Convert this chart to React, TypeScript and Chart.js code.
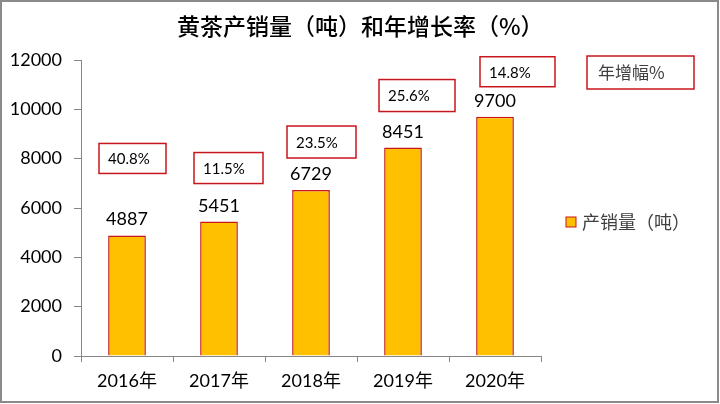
import React, { useEffect, useRef } from "react";
import { Chart, registerables } from "chart.js";

Chart.register(...registerables);

const categories = ["2016年", "2017年", "2018年", "2019年", "2020年"];
const output = [4887, 5451, 6729, 8451, 9700];
const growthRates = ["40.8%", "11.5%", "23.5%", "25.6%", "14.8%"];
const yTicks = [0, 2000, 4000, 6000, 8000, 10000, 12000];
const seriesLabel = "产销量（吨）";
const growthLegend = "年增幅%";
const titleText = "黄茶产销量（吨）和年增长率（%）";

// layout of the growth-rate callouts, relative to each bar (centre x, top y)
const calloutLayout = [
  { dx: -28, dy: -92, w: 67, h: 30 },
  { dx: -25, dy: -69, w: 69, h: 31 },
  { dx: -24, dy: -64, w: 69, h: 32 },
  { dx: -24, dy: -68, w: 76, h: 32 },
  { dx: -15, dy: -60, w: 75, h: 30 },
];

const FONT = "Lato, 'Noto Sans CJK SC', sans-serif";
const CJK = "'Noto Sans CJK SC', Lato, sans-serif";
const RED = "#C8161D";
const GOLD = "#FFC000";

const overlayPlugin = {
  id: "overlay",
  afterDatasetsDraw(chart: any) {
    const ctx = chart.ctx;
    const meta = chart.getDatasetMeta(0);
    ctx.save();
    // title
    ctx.fillStyle = "#000";
    ctx.font = `500 23px ${CJK}`;
    ctx.textAlign = "left";
    ctx.textBaseline = "middle";
    ctx.fillText(titleText, 177, 26);
    // value labels
    ctx.font = `18px ${FONT}`;
    ctx.fillStyle = "#000";
    ctx.textAlign = "center";
    ctx.textBaseline = "alphabetic";
    meta.data.forEach((bar: any, i: number) => {
      ctx.fillText(String(output[i]), bar.x, bar.y - 10);
    });
    // growth callouts
    meta.data.forEach((bar: any, i: number) => {
      const L = calloutLayout[i];
      const x = bar.x + L.dx;
      const y = bar.y + L.dy;
      ctx.fillStyle = "#fff";
      ctx.fillRect(x, y, L.w, L.h);
      ctx.strokeStyle = RED;
      ctx.lineWidth = 1.5;
      ctx.strokeRect(x, y, L.w, L.h);
      ctx.fillStyle = "#000";
      ctx.font = `15px ${FONT}`;
      ctx.textAlign = "left";
      ctx.textBaseline = "middle";
      ctx.fillText(growthRates[i], x + 9, y + L.h / 2 + 1);
    });
    // growth legend box
    const ca = chart.chartArea;
    const gx = ca.right + 46;
    const gy = ca.top - 4;
    ctx.fillStyle = "#fff";
    ctx.fillRect(gx, gy, 107, 33);
    ctx.strokeStyle = RED;
    ctx.lineWidth = 1.5;
    ctx.strokeRect(gx, gy, 107, 33);
    ctx.fillStyle = "#404040";
    ctx.font = `17px ${CJK}`;
    ctx.textAlign = "left";
    ctx.textBaseline = "middle";
    ctx.fillText(growthLegend, gx + 11, gy + 17);
    // series legend
    const ds = chart.data.datasets[0];
    const lx = ca.right + 25;
    const ly = 222;
    ctx.fillStyle = ds.backgroundColor;
    ctx.fillRect(lx, ly - 5, 10, 10);
    ctx.strokeStyle = ds.borderColor;
    ctx.lineWidth = 1;
    ctx.strokeRect(lx, ly - 5, 10, 10);
    ctx.fillStyle = "#404040";
    ctx.font = `18px ${CJK}`;
    ctx.fillText(ds.label, lx + 16, ly);
    // outer frame
    ctx.strokeStyle = "#8a8a8a";
    ctx.lineWidth = 2;
    ctx.strokeRect(1, 1, chart.width - 3, chart.height - 3);
    ctx.restore();
  },
};

export default function App() {
  const ref = useRef<HTMLCanvasElement>(null);
  useEffect(() => {
    document.body.style.margin = "0";
    const chart = new Chart(ref.current!, {
      type: "bar",
      data: {
        labels: categories,
        datasets: [
          {
            label: seriesLabel,
            data: output,
            backgroundColor: GOLD,
            borderColor: RED,
            borderWidth: 1.5,
            barPercentage: 0.41,
            categoryPercentage: 1,
          },
        ],
      },
      options: {
        animation: false,
        responsive: false,
        maintainAspectRatio: false,
        layout: { padding: { left: 0, right: 179, top: 60, bottom: 0 } },
        plugins: {
          legend: { display: false },
          tooltip: { enabled: false },
          title: { display: false },
        },
        scales: {
          x: {
            grid: {
              display: true,
              drawOnChartArea: false,
              drawTicks: true,
              tickLength: 6,
              color: "#868686",
              offset: true,
            },
            border: { display: true, color: "#868686", width: 1 },
            ticks: {
              color: "#000",
              font: { family: FONT, size: 18 },
              padding: 8,
            },
            afterFit: (s: any) => {
              s.height = 48;
            },
          },
          y: {
            min: 0,
            max: 12000,
            afterBuildTicks: (s: any) => {
              s.ticks = yTicks.map((v) => ({ value: v }));
            },
            grid: {
              display: true,
              drawOnChartArea: false,
              drawTicks: true,
              tickLength: 7,
              color: "#868686",
            },
            border: { display: true, color: "#868686", width: 1 },
            ticks: {
              color: "#000",
              font: { family: FONT, size: 18 },
              padding: 12,
              callback: (v: any) => String(v),
            },
            afterFit: (s: any) => {
              s.width = 81;
            },
          },
        },
      },
      plugins: [overlayPlugin],
    });
    return () => chart.destroy();
  }, []);
  return <canvas ref={ref} width={720} height={404} style={{ display: "block" }} />;
}
